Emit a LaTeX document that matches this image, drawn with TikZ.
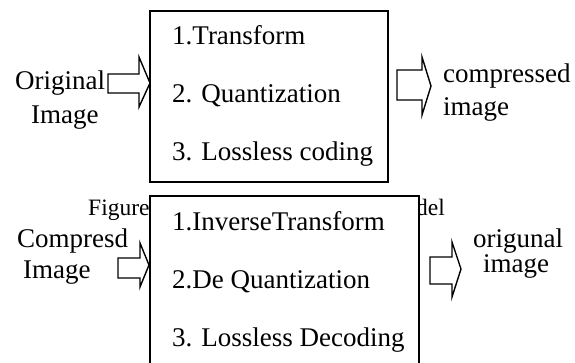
\documentclass[tikz,border=0pt]{standalone}
\usepackage{fontspec}
\setmainfont{Liberation Serif}
\begin{document}
\begin{tikzpicture}[x=1pt,y=-1pt,
  txt/.style={inner sep=0pt, anchor=base west, font=\fontsize{27}{33}\selectfont},
  captxt/.style={inner sep=0pt, anchor=base west, font=\fontsize{23.5}{26}\selectfont},
  box/.style={draw, line width=2pt, fill=white, anchor=north west, inner sep=0pt},
  blockarrow/.style={draw, line width=1.4pt, line join=miter, fill=white}]
\useasboundingbox (0,0) rectangle (575,362);
\clip (0,0) rectangle (575,362);
% caption (partly hidden behind the lower box)
\node[captxt] (figw) at (88,215) {Figure};
\node[captxt] (delw) at (416,215) {del};
% boxes
\node[box, minimum width=238pt, minimum height=171pt] (enc) at (149,10) {};
\node[box, minimum width=269pt, minimum height=185pt] (dec) at (149,195) {};
% encoder texts
\node[txt] (e1) at (172,44) {1.Transform};
\node[txt] (e2) at (172,102) {2. Quantization};
\node[txt] (e3) at (172,160) {3. Lossless coding};
\node[txt] (o1) at (15,89) {Original};
\node[txt] (o2) at (31,123) {Image};
\node[txt] (c1) at (443,82) {compressed};
\node[txt] (c2) at (443,115) {image};
% decoder texts
\node[txt] (d1) at (172,230) {1.InverseTransform};
\node[txt] (d2) at (172,288) {2.De Quantization};
\node[txt] (d3) at (172,346) {3. Lossless Decoding};
\node[txt] (i1) at (17,247) {Compresd};
\node[txt] (i2) at (23,278) {Image};
\node[txt] (r1) at (473,247) {origunal};
\node[txt] (r2) at (483,272) {image};
% block arrows
\draw[blockarrow] (108,74) -- (139,74) -- (139,57) -- (150,83) -- (139,107) -- (139,93) -- (108,93) -- cycle;
\draw[blockarrow] (397,70) -- (422,70) -- (422,57) -- (431,86) -- (422,115) -- (422,100) -- (397,100) -- cycle;
\draw[blockarrow] (118,258) -- (140,258) -- (140,243) -- (149,265) -- (140,287) -- (140,278) -- (118,278) -- cycle;
\draw[blockarrow] (430,257) -- (452,257) -- (452,242) -- (461,269) -- (452,297) -- (452,284) -- (430,284) -- cycle;
\end{tikzpicture}
\end{document}
